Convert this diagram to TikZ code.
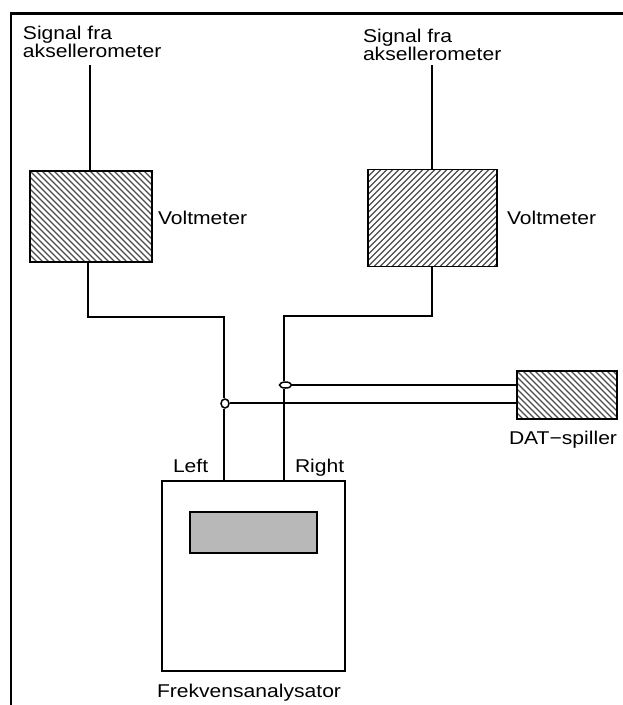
\documentclass[tikz,border=0pt]{standalone}
\usepackage{fontspec}
\setmainfont[FakeStretch=1.14]{Liberation Sans}
\usetikzlibrary{calc,shapes.geometric}
\definecolor{hatchc}{gray}{0.3}
\definecolor{screenc}{gray}{0.72}
\tikzset{
  conn/.style={line width=1.8pt,black},
  boxb/.style={draw=black,line width=1.6pt,rectangle,inner sep=0pt,outer sep=0pt},
  hatchbs/.style={boxb,path picture={
    \foreach \k in {-30,...,50}{
      \draw[hatchc,line width=1.2pt]
        ($(path picture bounding box.north west)+(\k*6pt-150pt,150pt)$) --
        ($(path picture bounding box.north west)+(\k*6pt+200pt,-200pt)$);
    }}},
  hatchfs/.style={boxb,path picture={
    \foreach \k in {-30,...,50}{
      \draw[hatchc,line width=1.2pt]
        ($(path picture bounding box.south west)+(\k*6pt-150pt,-150pt)$) --
        ($(path picture bounding box.south west)+(\k*6pt+200pt,200pt)$);
    }}},
  lbl/.style={inner sep=0pt,outer sep=0pt,font=\fontsize{18.5}{16.5}\selectfont,text=black},
  junc/.style={ellipse,draw=black,fill=white,line width=1.5pt,inner sep=0pt},
}
\begin{document}
\begin{tikzpicture}[x=1pt,y=-1pt]
\useasboundingbox (0,0) rectangle (623,705);
\fill[white] (0,0) rectangle (623,705);
\coordinate (fa) at (11,705);
\coordinate (fb) at (11,13.2);
\coordinate (fc) at (623,13.2);
\draw[line width=2.3pt] (fa) -- (fb);
\draw[line width=3.3pt] (9.85,13.2) -- (fc);
\node[hatchbs,minimum width=122pt,minimum height=91pt] (v1) at (91,216.5) {};
\node[hatchfs,minimum width=129pt,minimum height=97pt] (v2) at (432.5,218) {};
\node[hatchbs,minimum width=100pt,minimum height=48pt] (dat) at (567,395) {};
\node[boxb,minimum width=183pt,minimum height=190pt] (fa2) at (253.5,576) {};
\node[boxb,fill=screenc,minimum width=127pt,minimum height=41pt,line width=1.2pt] (scr) at (253.5,532.5) {};
\node[junc,minimum width=8pt,minimum height=9pt] (jl) at (225,403.5) {};
\node[junc,minimum width=12pt,minimum height=6pt] (jr) at (285.5,385) {};
\coordinate (s1) at (90,65);
\coordinate (s2) at (432,65);
\coordinate (c1a) at (88,317);
\coordinate (c1b) at (224,317);
\coordinate (c2a) at (432,316);
\coordinate (c2b) at (284,316);
\coordinate (e1) at (224,403);
\draw[conn] (s1) -- (s1 |- v1.north);
\draw[conn] (s2) -- (s2 |- v2.north);
\draw[conn] (c1a |- v1.south) -- (c1a) -- (c1b) -- (c1b |- jl.north);
\draw[conn] (c1b |- jl.south) -- (c1b |- fa2.north);
\draw[conn] (c2a |- v2.south) -- (c2a) -- (c2b) -- (c2b |- jr.north);
\draw[conn] (c2b |- jr.south) -- (c2b |- fa2.north);
\draw[conn] (jr.east) -- (dat.west |- jr);
\draw[conn] (jl.east |- e1) -- (dat.west |- e1);
\node[lbl,anchor=north west,align=left] (t1) at (23,26) {Signal fra\\aksellerometer};
\node[lbl,anchor=north west,align=left] (t2) at (363,29) {Signal fra\\aksellerometer};
\node[lbl,anchor=base west] (t3) at (158,224) {Voltmeter};
\node[lbl,anchor=base west] (t4) at (507,224) {Voltmeter};
\node[lbl,anchor=base west] (t5) at (509,444) {DAT−spiller};
\node[lbl,anchor=base west] (t6) at (173,472) {Left};
\node[lbl,anchor=base west] (t7) at (295,472) {Right};
\node[lbl,anchor=base west] (t8) at (157,697) {Frekvensanalysator};
\end{tikzpicture}
\end{document}
